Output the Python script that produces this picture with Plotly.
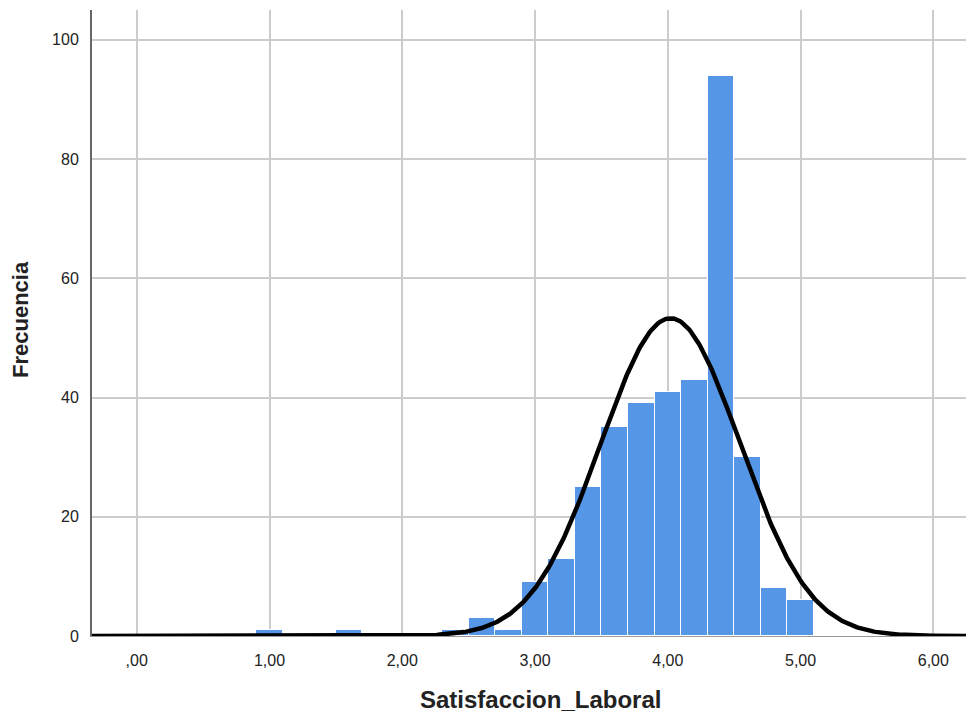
import numpy as np
import plotly.graph_objects as go

# Histogram bins (centers) and frequencies
bin_centers = [1.0, 1.2, 1.4, 1.6, 1.8, 2.0, 2.2, 2.4, 2.6, 2.8, 3.0, 3.2, 3.4, 3.6, 3.8, 4.0, 4.2, 4.4, 4.6, 4.8, 5.0]
frequencies = [1, 0, 0, 1, 0, 0, 0, 1, 3, 1, 9, 13, 25, 35, 39, 41, 43, 94, 30, 8, 6]
bin_width = 0.2

# Normal curve parameters (as shown by the fitted curve)
curve_mean = 4.02
curve_sd = 0.524
n_total = 350

x_tickvals = [0, 1, 2, 3, 4, 5, 6]
x_ticktext = [",00", "1,00", "2,00", "3,00", "4,00", "5,00", "6,00"]
y_tickvals = [0, 20, 40, 60, 80, 100]

x_title = "Satisfaccion_Laboral"
y_title = "Frecuencia"

x_range = [-0.337, 6.246]
y_range = [0, 105]

xs = np.linspace(x_range[0], x_range[1], 600)
ys = n_total * bin_width / (curve_sd * np.sqrt(2 * np.pi)) * np.exp(-0.5 * ((xs - curve_mean) / curve_sd) ** 2)

fig = go.Figure()
fig.add_trace(go.Bar(
    x=bin_centers, y=frequencies, width=bin_width,
    marker=dict(color="#5596e6", line=dict(color="white", width=1)),
    hoverinfo="x+y",
))
fig.add_trace(go.Scatter(
    x=xs, y=ys, mode="lines",
    line=dict(color="black", width=4.5),
    hoverinfo="skip",
))

font_family = "Liberation Sans, Arial, sans-serif"
fig.update_layout(
    width=966, height=716,
    margin=dict(l=92, r=0, t=10, b=80),
    paper_bgcolor="white", plot_bgcolor="white",
    showlegend=False, bargap=0,
    font=dict(family=font_family, size=16, color="#222"),
    xaxis=dict(
        range=x_range, tickvals=x_tickvals, ticktext=x_ticktext,
        showgrid=True, gridcolor="#cccccc", gridwidth=1.5,
        zeroline=False, showline=True, linecolor="#999999", linewidth=1,
        ticks="", ticklabelstandoff=10,
        tickfont=dict(size=16, color="#222"),
    ),
    yaxis=dict(
        range=y_range, tickvals=y_tickvals,
        showgrid=True, gridcolor="#cccccc", gridwidth=1.5,
        zeroline=False, showline=True, linecolor="#666666", linewidth=2,
        ticks="", ticklabelstandoff=8,
        tickfont=dict(size=16, color="#222"),
    ),
    annotations=[
        dict(text="<b>" + x_title + "</b>", xref="paper", yref="paper",
             x=(540 - 92) / 874, y=-(699 - 636) / 626, xanchor="center", yanchor="middle",
             showarrow=False, font=dict(size=24, color="#222")),
        dict(text="<b>" + y_title + "</b>", xref="paper", yref="paper",
             x=-(92 - 20) / 874, y=(636 - 320) / 626, xanchor="center", yanchor="middle",
             textangle=-90, showarrow=False, font=dict(size=22, color="#222")),
    ],
)

fig.write_html("out.html")
